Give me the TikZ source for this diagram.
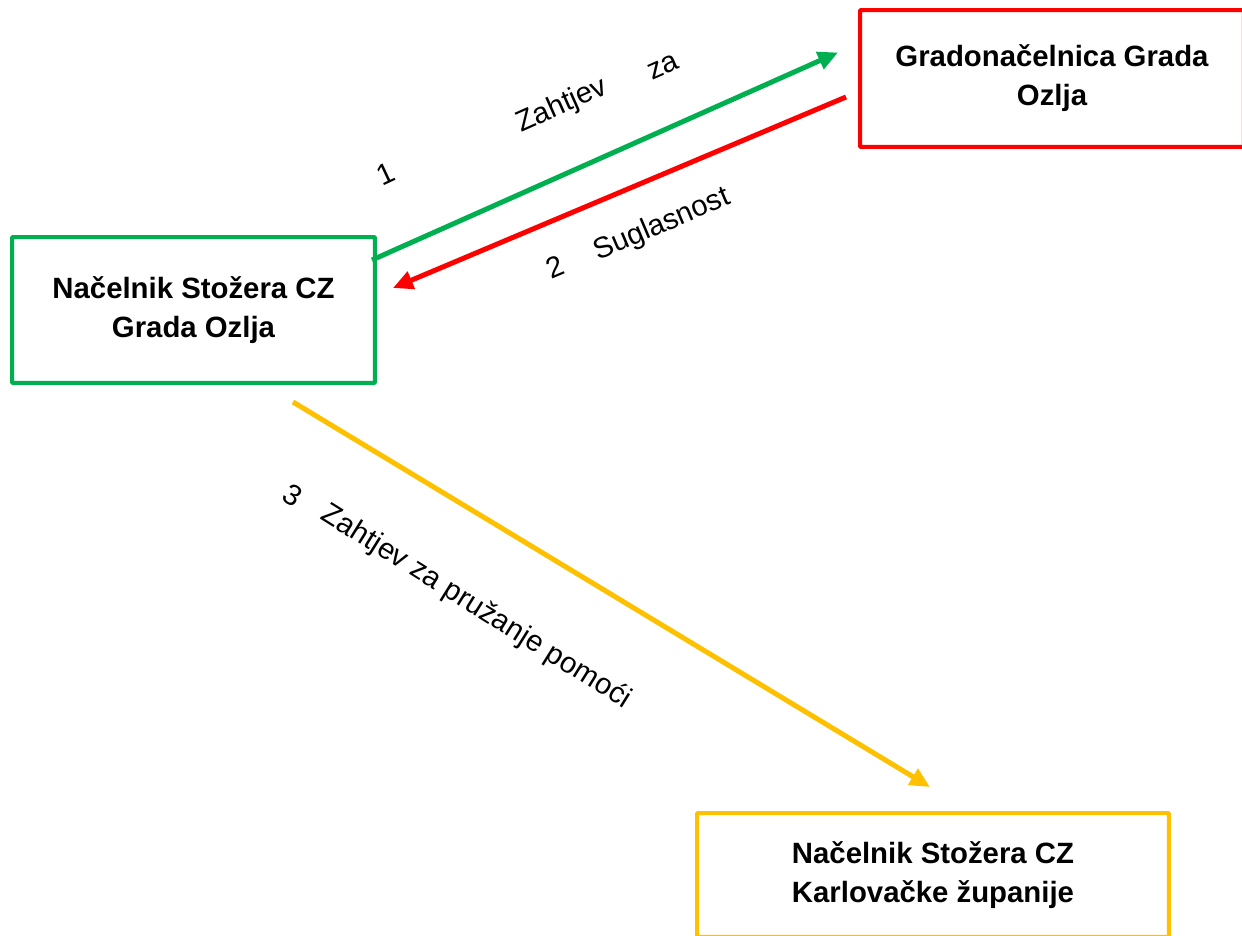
\documentclass[tikz,border=0pt]{standalone}
\usepackage{fontspec}
\setmainfont{Liberation Sans}
\usetikzlibrary{arrows.meta,calc}
\definecolor{stozergreen}{RGB}{0,176,80}
\definecolor{gradred}{RGB}{255,0,0}
\definecolor{zupyellow}{RGB}{255,192,0}
\tikzset{
	box/.style={draw, line width=0.08cm, rounded corners=0.5pt, align=center, text=black, outer sep=0pt, font=\bfseries\fontsize{16.7}{22.2}\selectfont},
	link/.style={line width=0.1cm, -{Triangle[length=0.4cm,width=0.36cm]}},
	lbl/.style={inner sep=0pt, font=\fontsize{16.7}{20}\selectfont}
}

\begin{document}
\begin{tikzpicture}[x=0.02cm, y=-0.02cm]
		\clip (0,0) rectangle (1242,936);

		\node[box, draw=stozergreen, minimum width=7.26cm, minimum height=2.92cm] (gcz) at (193.5,310) {Načelnik Stožera CZ\\Grada Ozlja};
		\node[box, draw=gradred, minimum width=7.68cm, minimum height=2.74cm] (grad) at (1052,78.5) {Gradonačelnica Grada\\Ozlja};
		\node[box, draw=zupyellow, minimum width=9.44cm, minimum height=2.48cm] (kzz) at (933,875) {Načelnik Stožera CZ\\Karlovačke županije};

		\draw[link, stozergreen] ($(gcz.north east)+(-3,23)$) -- ($(grad.west)+(-22,-26)$);
		\draw[link, gradred] ($(grad.west)+(-14,18.5)$) -- ($(gcz.east)+(18,-22)$);
		\draw[link, zupyellow] ($(gcz.south)+(99.5,19)$) -- ($(kzz.north)+(-3,-26)$);

		\node[lbl, rotate=25] (num1) at (386,174) {1};
		\node[lbl, rotate=24] (zah1) at (562,106) {Zahtjev};
		\node[lbl, rotate=24] (za1) at (663,67) {za};
		\node[lbl, rotate=23] (num2) at (555,267) {2};
		\node[lbl, rotate=23] (sugl) at (662,225) {Suglasnost};
		\node[lbl, rotate=-32] (num3) at (293,495) {3};
		\node[lbl, rotate=-32] (zah3) at (476,607) {Zahtjev za pružanje pomoći};
	\end{tikzpicture}
\end{document}
